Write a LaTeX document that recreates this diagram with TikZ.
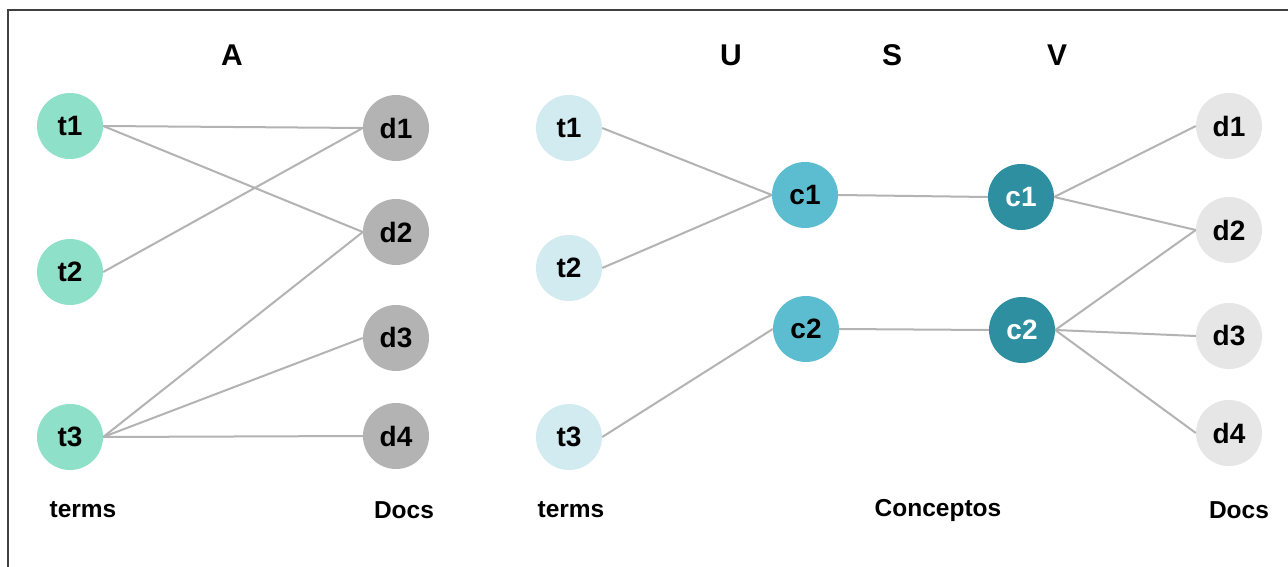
\documentclass[tikz,border=0pt]{standalone}
\usepackage{fontspec}
\setmainfont{Liberation Sans}
\begin{document}
\begin{tikzpicture}[x=1pt,y=-1pt,
  head/.style={font=\fontsize{30}{34}\selectfont\bfseries, inner sep=0pt},
  lbl/.style={font=\fontsize{24.5}{28}\selectfont\bfseries, inner sep=0pt},
  dot/.style={circle, minimum size=66pt, inner sep=0pt, draw=none,
    font=\fontsize{28}{32}\selectfont\bfseries},
  termA/.style={dot, fill=termmint},
  docA/.style={dot, fill=docgray},
  termU/.style={dot, fill=termpale},
  concU/.style={dot, fill=concsky},
  concV/.style={dot, fill=concteal, text=white},
  docV/.style={dot, fill=docpale},
  link/.style={draw=linegray, line width=2pt}]
\definecolor{termmint}{HTML}{8FE0C8}
\definecolor{docgray}{HTML}{B3B3B3}
\definecolor{termpale}{HTML}{D1EBF0}
\definecolor{concsky}{HTML}{5DBDD0}
\definecolor{concteal}{HTML}{2E8FA0}
\definecolor{docpale}{HTML}{E6E6E6}
\definecolor{linegray}{HTML}{B3B3B3}
\definecolor{framegray}{HTML}{404040}
\useasboundingbox (0,0) rectangle (1288,567);
\fill[white] (0,0) rectangle (1288,567);
% frame
\draw[framegray, line width=1.2pt] (8,580) -- (8,10) -- (1300,10);

% left panel: term-document matrix A
\node[head] (hA) at (232,55) {A};
\node[termA] (a-t1) at (70,126) {t1};
\node[termA] (a-t2) at (70,272) {t2};
\node[termA] (a-t3) at (70,437) {t3};
\node[docA] (a-d1) at (396,128) {d1};
\node[docA] (a-d2) at (396,232) {d2};
\node[docA] (a-d3) at (396,338) {d3};
\node[docA] (a-d4) at (396,436) {d4};
\node[lbl] (a-terms) at (83,510) {terms};
\node[lbl] (a-docs) at (404,510) {Docs};

\draw[link] (a-t1.east) -- (a-d1.west);
\draw[link] (a-t1.east) -- (a-d2.west);
\draw[link] (a-t2.east) -- (a-d1.west);
\draw[link] (a-t3.east) -- (a-d2.west);
\draw[link] (a-t3.east) -- (a-d3.west);
\draw[link] (a-t3.east) -- (a-d4.west);

% right panel: decomposition U S V
\node[head] (hU) at (731,55) {U};
\node[head] (hS) at (892,55) {S};
\node[head] (hV) at (1057,55) {V};
\node[termU] (u-t1) at (569,128) {t1};
\node[termU] (u-t2) at (569,268) {t2};
\node[termU] (u-t3) at (569,437) {t3};
\node[concU] (u-c1) at (805,195) {c1};
\node[concU] (u-c2) at (806,329) {c2};
\node[concV] (v-c1) at (1021,197) {c1};
\node[concV] (v-c2) at (1022,330) {c2};
\node[docV] (v-d1) at (1229,126) {d1};
\node[docV] (v-d2) at (1229,230) {d2};
\node[docV] (v-d3) at (1229,336) {d3};
\node[docV] (v-d4) at (1229,433) {d4};
\node[lbl] (u-terms) at (571,510) {terms};
\node[lbl] (s-conc) at (938,510) {Conceptos};
\node[lbl] (v-docs) at (1239,510) {Docs};

\draw[link] (u-t1.east) -- (u-c1.west);
\draw[link] (u-t2.east) -- (u-c1.west);
\draw[link] (u-t3.east) -- (u-c2.west);
\draw[link] (u-c1.east) -- (v-c1.west);
\draw[link] (u-c2.east) -- (v-c2.west);
\draw[link] (v-c1.east) -- (v-d1.west);
\draw[link] (v-c1.east) -- (v-d2.west);
\draw[link] (v-c2.east) -- (v-d2.west);
\draw[link] (v-c2.east) -- (v-d3.west);
\draw[link] (v-c2.east) -- (v-d4.west);
\end{tikzpicture}
\end{document}
